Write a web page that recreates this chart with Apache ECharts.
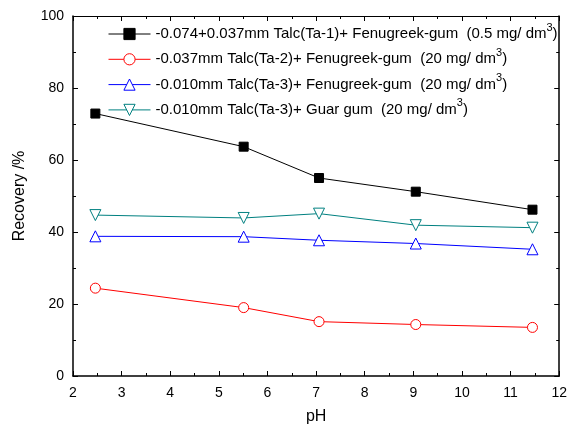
<!DOCTYPE html>
<html><head><meta charset="utf-8">
<script src="https://cdn.jsdelivr.net/npm/echarts@6/dist/echarts.min.js"></script>
<style>html,body{margin:0;padding:0;background:#fff}#c{width:570px;height:430px}</style>
</head><body><div id="c"></div>
<script>
const pH = [2.46, 5.51, 7.06, 9.05, 11.45];
const seriesNames = [
  '-0.074+0.037mm Talc(Ta-1)+ Fenugreek-gum  (0.5 mg/ dm',
  '-0.037mm Talc(Ta-2)+ Fenugreek-gum  (20 mg/ dm',
  '-0.010mm Talc(Ta-3)+ Fenugreek-gum  (20 mg/ dm',
  '-0.010mm Talc(Ta-3)+ Guar gum  (20 mg/ dm'
];
const ta1Fenugreek = [72.9, 63.7, 55.0, 51.2, 46.2];
const ta2Fenugreek = [24.4, 19.0, 15.1, 14.3, 13.5];
const ta3Fenugreek = [38.8, 38.7, 37.7, 36.8, 35.2];
const ta3Guar = [44.7, 43.9, 45.1, 41.9, 41.2];
const xTicks = [2,3,4,5,6,7,8,9,10,11,12];
const yTicks = [0,20,40,60,80,100];

const font = 'Liberation Sans, Arial, sans-serif';
const chart = echarts.init(document.getElementById('c'));
function pts(v){ return pH.map((x,i)=>[x, v[i]]); }
function mk(name, data, color, symbol, fill, size, rot){
  return {
    name, type:'line', data: pts(data), symbol, symbolSize: size, symbolRotate: rot||0,
    lineStyle:{color, width:1}, itemStyle:{color: fill, borderColor: color, borderWidth: 1},
    emphasis:{disabled:true}, animation:false, z: 3
  };
}
const axisCommon = {
  axisLine:{show:true, onZero:false, lineStyle:{color:'#000', width:1.5}},
  axisTick:{show:true, inside:true, length:5, lineStyle:{color:'#000', width:1}},
  minorTick:{show:true, splitNumber:2, length:3, lineStyle:{color:'#000', width:1}},
  splitLine:{show:false}
};
chart.setOption({
  backgroundColor:'#fff',
  animation:false,
  grid:{left:73, top:16, right:7, bottom:51},
  legend:{
    orient:'vertical', left:103, top:17, itemWidth:42, itemHeight:14, itemGap:5.3,
    data: seriesNames,
    lineStyle:{width:1},
    itemStyle:{borderWidth:1},
    formatter: n => n + '{sup|3})',
    textStyle:{fontFamily:font, fontSize:15, color:'#000', lineHeight:16,
      rich:{sup:{fontFamily:font, fontSize:11, color:'#000', lineHeight:16, verticalAlign:'bottom', padding:[0,0,9,0]}}}
  },
  xAxis:[
    Object.assign({type:'value', min:2, max:12, interval:1, position:'bottom',
      name:'pH', nameLocation:'middle', nameGap:33,
      nameTextStyle:{fontFamily:font, fontSize:16, color:'#000'},
      axisLabel:{fontFamily:font, fontSize:14, color:'#000', margin:10,
        formatter: v => xTicks.includes(v) ? String(v) : ''}}, axisCommon),
    Object.assign({type:'value', min:2, max:12, interval:1, position:'top',
      axisLabel:{show:false}}, axisCommon, {axisLine:{show:true, onZero:false, lineStyle:{color:'#000', width:1}}})
  ],
  yAxis:[
    Object.assign({type:'value', min:0, max:100, interval:20, position:'left',
      name:'Recovery /%', nameLocation:'middle', nameGap:45, nameRotate:90,
      nameTextStyle:{fontFamily:font, fontSize:16, color:'#000'},
      axisLabel:{fontFamily:font, fontSize:14, color:'#000', margin:9,
        formatter: v => yTicks.includes(v) ? String(v) : ''}}, axisCommon),
    Object.assign({type:'value', min:0, max:100, interval:20, position:'right',
      axisLabel:{show:false}}, axisCommon)
  ],
  series:[
    mk(seriesNames[0], ta1Fenugreek, '#000000', 'rect', '#000000', 9),
    mk(seriesNames[1], ta2Fenugreek, '#ff0000', 'circle', '#ffffff', 10),
    mk(seriesNames[2], ta3Fenugreek, '#0000ff', 'triangle', '#ffffff', 11),
    mk(seriesNames[3], ta3Guar, '#008080', 'triangle', '#ffffff', 11, 180)
  ]
});
</script></body></html>
